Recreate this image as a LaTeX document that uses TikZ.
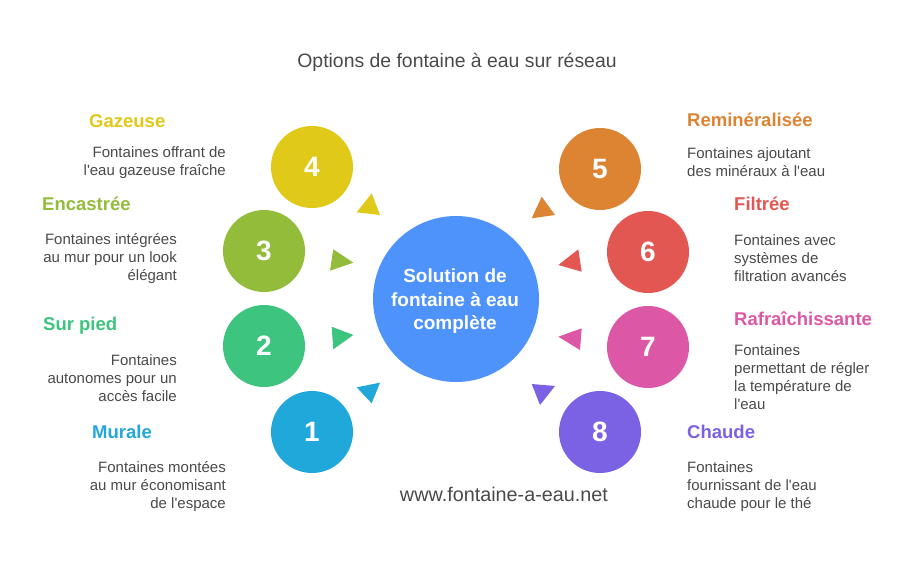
\documentclass[tikz,border=0pt]{standalone}
\usepackage{fontspec}
\setmainfont{Liberation Sans}
\definecolor{cone}{HTML}{21A8DA}
\definecolor{ctwo}{HTML}{3DC47E}
\definecolor{cthree}{HTML}{93BC3A}
\definecolor{cfour}{HTML}{E0C918}
\definecolor{cfive}{HTML}{DD8433}
\definecolor{csix}{HTML}{E35753}
\definecolor{cseven}{HTML}{DC57A6}
\definecolor{ceight}{HTML}{7B62E4}
\definecolor{chub}{HTML}{4D93FB}
\definecolor{txtgray}{HTML}{4A4A4A}
\begin{document}
\begin{tikzpicture}[x=1pt,y=-1pt,
  num/.style={circle,fill=#1,minimum size=82pt,inner sep=0pt,text=white,
    font=\fontsize{28}{30}\selectfont\bfseries},
  ttl/.style={text=#1,font=\fontsize{18.5}{22}\selectfont\bfseries,inner sep=0pt},
  desc/.style={text=txtgray,font=\fontsize{15}{18}\selectfont,inner sep=0pt},
  tri/.style={fill=#1}]
\useasboundingbox (0,0) rectangle (912,564);
\fill[white] (0,0) rectangle (912,564);

% title
\node[anchor=base,text=txtgray,font=\fontsize{19.4}{22}\selectfont,inner sep=0pt] (title) at (457,68) {Options de fontaine à eau sur réseau};

% hub
\node[circle,fill=chub,minimum size=166pt,inner sep=0pt] (hub) at (456,299) {};
\node[anchor=base,text=white,font=\fontsize{19}{23.5}\selectfont\bfseries,inner sep=0pt] (hubtxt) at (455,282.7)
  {\begin{tabular}[t]{@{}c@{}}Solution de\\fontaine à eau\\complète\end{tabular}};

% numbered circles
\node[num=cfour] (n4) at (312,167) {4};
\node[num=cthree] (n3) at (264,251) {3};
\node[num=ctwo] (n2) at (264,346) {2};
\node[num=cone] (n1) at (312,432) {1};
\node[num=cfive] (n5) at (600,169) {5};
\node[num=csix] (n6) at (648,252) {6};
\node[num=cseven] (n7) at (648,347) {7};
\node[num=ceight] (n8) at (600,432) {8};

% triangles
\fill[tri=cfour] (371.7,193.3) -- (356.7,212.3) -- (380,215) -- cycle;
\fill[tri=cthree] (333.3,249.3) -- (330,270.7) -- (353.3,262.7) -- cycle;
\fill[tri=ctwo] (331.7,326.7) -- (333.3,349.3) -- (353.3,335) -- cycle;
\fill[tri=cone] (356.7,387.3) -- (380,382.7) -- (371.7,403.3) -- cycle;
\fill[tri=cfive] (541.7,196.7) -- (531.7,218.3) -- (555,215) -- cycle;
\fill[tri=csix] (578.3,249.3) -- (558.3,265) -- (581.7,271.7) -- cycle;
\fill[tri=cseven] (581.7,328.3) -- (558.3,336.7) -- (580,350) -- cycle;
\fill[tri=ceight] (531.7,384) -- (555,386) -- (540,405) -- cycle;

% left labels
\node[ttl=cfour,anchor=base west] (t4) at (89,127.3) {Gazeuse};
\node[desc,anchor=base east] (d4) at (226,157.3)
  {\begin{tabular}[t]{@{}r@{}}Fontaines offrant de\\l\textquotesingle eau gazeuse fraîche\end{tabular}};
\node[ttl=cthree,anchor=base west] (t3) at (42,211) {Encastrée};
\node[desc,anchor=base east] (d3) at (177,244.7)
  {\begin{tabular}[t]{@{}r@{}}Fontaines intégrées\\au mur pour un look\\élégant\end{tabular}};
\node[ttl=ctwo,anchor=base west] (t2) at (43,330.7) {Sur pied};
\node[desc,anchor=base east] (d2) at (177,365)
  {\begin{tabular}[t]{@{}r@{}}Fontaines\\autonomes pour un\\accès facile\end{tabular}};
\node[ttl=cone,anchor=base west] (t1) at (92,438.3) {Murale};
\node[desc,anchor=base east] (d1) at (226,472.7)
  {\begin{tabular}[t]{@{}r@{}}Fontaines montées\\au mur économisant\\de l\textquotesingle espace\end{tabular}};

% right labels
\node[ttl=cfive,anchor=base west] (t5) at (687,126.7) {Reminéralisée};
\node[desc,anchor=base west] (d5) at (687,158.3)
  {\begin{tabular}[t]{@{}l@{}}Fontaines ajoutant\\des minéraux à l\textquotesingle eau\end{tabular}};
\node[ttl=csix,anchor=base west] (t6) at (734,211) {Filtrée};
\node[desc,anchor=base west] (d6) at (734,245)
  {\begin{tabular}[t]{@{}l@{}}Fontaines avec\\systèmes de\\filtration avancés\end{tabular}};
\node[ttl=cseven,anchor=base west] (t7) at (734,325) {Rafraîchissante};
\node[desc,anchor=base west] (d7) at (734,355.7)
  {\begin{tabular}[t]{@{}l@{}}Fontaines\\permettant de régler\\la température de\\l\textquotesingle eau\end{tabular}};
\node[ttl=ceight,anchor=base west] (t8) at (687,438.3) {Chaude};
\node[desc,anchor=base west] (d8) at (687,472.7)
  {\begin{tabular}[t]{@{}l@{}}Fontaines\\fournissant de l\textquotesingle eau\\chaude pour le thé\end{tabular}};

% website
\node[anchor=base,text=txtgray,font=\fontsize{19.8}{23}\selectfont,inner sep=0pt] (web) at (504,501) {www.fontaine-a-eau.net};
\end{tikzpicture}
\end{document}
